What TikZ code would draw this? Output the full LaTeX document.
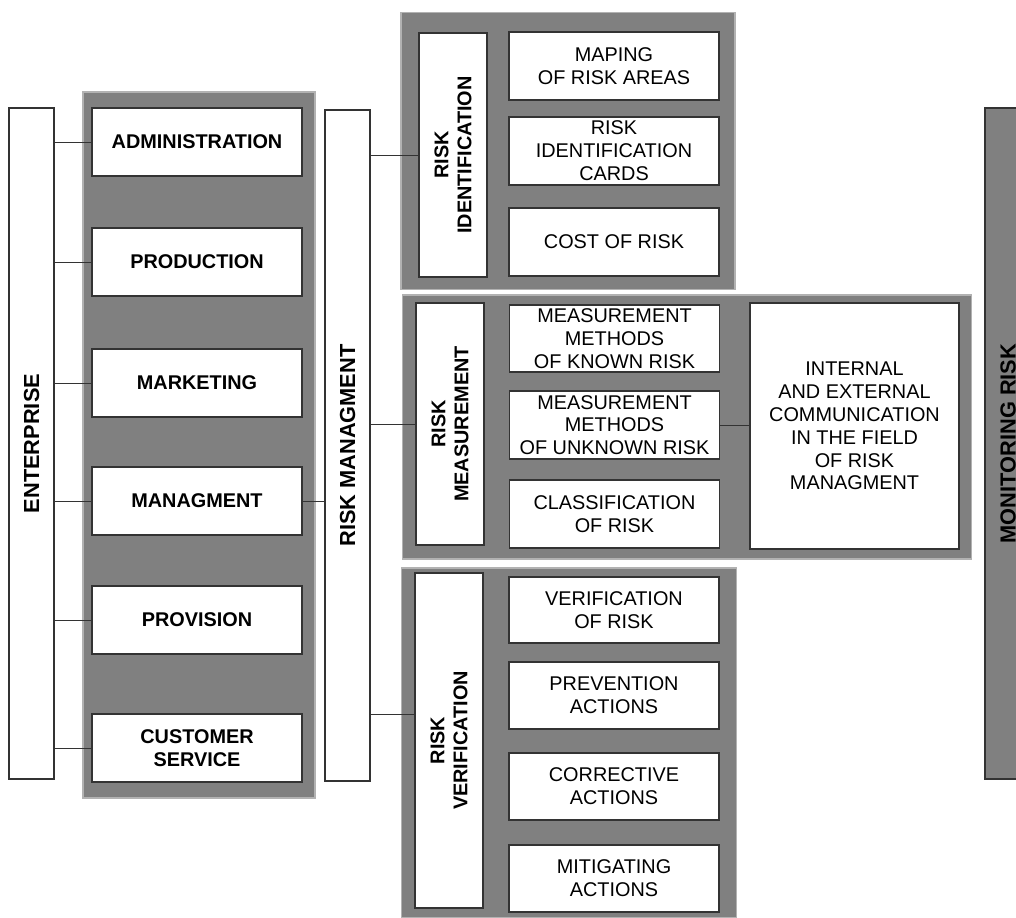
\documentclass[tikz,border=0pt]{standalone}
\usepackage{fontspec}
\setmainfont{Liberation Sans}
\usetikzlibrary{positioning,calc}

\begin{document}
\begin{tikzpicture}[x=0.2mm, y=-0.2mm, font=\fontsize{11.3}{13}\selectfont]
	\tikzstyle{box}=[draw=black!80, fill=white, line width=0.6pt, inner sep=0pt, align=center]
	\tikzstyle{grp}=[draw=black!30, fill=gray, line width=0.6pt, inner sep=0pt]
	\tikzstyle{wide}=[box, minimum width=42mm, minimum height=13.6mm]
	\tikzstyle{bar}=[box, minimum width=9mm, minimum height=134.2mm]
	\tikzstyle{vlabel}=[rotate=90, align=center, font=\fontsize{11.3}{13}\selectfont\bfseries]
	\tikzstyle{biglabel}=[rotate=90, font=\fontsize{12.4}{14}\selectfont\bfseries]
	\useasboundingbox (0,0) rectangle (1016,917);

	% gray groups
	\node[grp, minimum width=46.4mm, minimum height=141.2mm] (gEnt) at (199,445) {};
	\node[grp, minimum width=66.8mm, minimum height=55.4mm]  (gIdt) at (568,151) {};
	\node[grp, minimum width=113.8mm, minimum height=52.8mm] (gMea) at (687,427) {};
	\node[grp, minimum width=67mm, minimum height=70mm]      (gVer) at (569,743) {};
	\node[box, fill=gray, minimum width=9.2mm, minimum height=134.2mm,
		label={[biglabel]center:MONITORING RISK}] (mon) at (1008,443.5) {};

	% enterprise
	\node[bar, label={[biglabel]center:ENTERPRISE}] (ent) at (31.5,443.5) {};
	\node[wide, font=\fontsize{11.3}{13}\selectfont\bfseries] (adm) at (197,142) {ADMINISTRATION};
	\node[wide, font=\fontsize{11.3}{13}\selectfont\bfseries] (pro) at (197,262) {PRODUCTION};
	\node[wide, font=\fontsize{11.3}{13}\selectfont\bfseries] (mar) at (197,383) {MARKETING};
	\node[wide, font=\fontsize{11.3}{13}\selectfont\bfseries] (man) at (197,501) {MANAGMENT};
	\node[wide, font=\fontsize{11.3}{13}\selectfont\bfseries] (prv) at (197,620) {PROVISION};
	\node[wide, font=\fontsize{11.3}{13}\selectfont\bfseries] (cus) at (197,748) {CUSTOMER\\SERVICE};

	% risk managment
	\node[bar, label={[biglabel]center:RISK MANAGMENT}] (rm) at (347.5,445.5) {};

	% identification
	\node[box, minimum width=13.6mm, minimum height=48.8mm,
		label={[vlabel]center:RISK\\IDENTIFICATION}] (idt) at (453,155) {};
	\node[wide] (map) at (614,66)  {MAPING\\OF RISK AREAS};
	\node[wide] (crd) at (614,151) {RISK\\IDENTIFICATION\\CARDS};
	\node[wide] (cst) at (614,242) {COST OF RISK};

	% measurement
	\node[box, minimum width=13.6mm, minimum height=48.4mm,
		label={[vlabel]center:RISK\\MEASUREMENT}] (mea) at (450,424) {};
	\node[wide, minimum height=13.4mm] (kno) at (614.5,338.5) {MEASUREMENT\\METHODS\\OF KNOWN RISK};
	\node[wide, minimum height=13.6mm] (unk) at (614.5,425)   {MEASUREMENT\\METHODS\\OF UNKNOWN RISK};
	\node[wide, minimum height=13.6mm] (cls) at (614.5,514)   {CLASSIFICATION\\OF RISK};
	\node[box, minimum width=41.8mm, minimum height=49.2mm] (com) at (854.5,426)
		{INTERNAL\\AND EXTERNAL\\COMMUNICATION\\IN THE FIELD\\OF RISK\\MANAGMENT};

	% verification
	\node[box, minimum width=13.6mm, minimum height=67mm,
		label={[vlabel]center:RISK\\VERIFICATION}] (ver) at (449,740.5) {};
	\node[wide, minimum height=13.2mm] (vrk) at (614,610)   {VERIFICATION\\OF RISK};
	\node[wide, minimum height=13.4mm] (prn) at (614,695.5) {PREVENTION\\ACTIONS};
	\node[wide, minimum height=13.4mm] (cor) at (614,786.5) {CORRECTIVE\\ACTIONS};
	\node[wide, minimum height=13.4mm] (mit) at (614,878.5) {MITIGATING\\ACTIONS};

	\coordinate (verin) at ([yshift=5.2mm]ver.west);

	\path[draw=black!80, line width=0.5pt]
		(ent.east |- adm.west) edge (adm.west)
		(ent.east |- pro.west) edge (pro.west)
		(ent.east |- mar.west) edge (mar.west)
		(ent.east |- man.west) edge (man.west)
		(ent.east |- prv.west) edge (prv.west)
		(ent.east |- cus.west) edge (cus.west)
		(man.east) edge (rm.west |- man.east)
		(rm.east |- idt.west) edge (idt.west)
		(rm.east |- mea.west) edge (mea.west)
		(rm.east |- verin) edge (verin)
		(unk.east) edge (com.west |- unk.east);
\end{tikzpicture}
\end{document}
